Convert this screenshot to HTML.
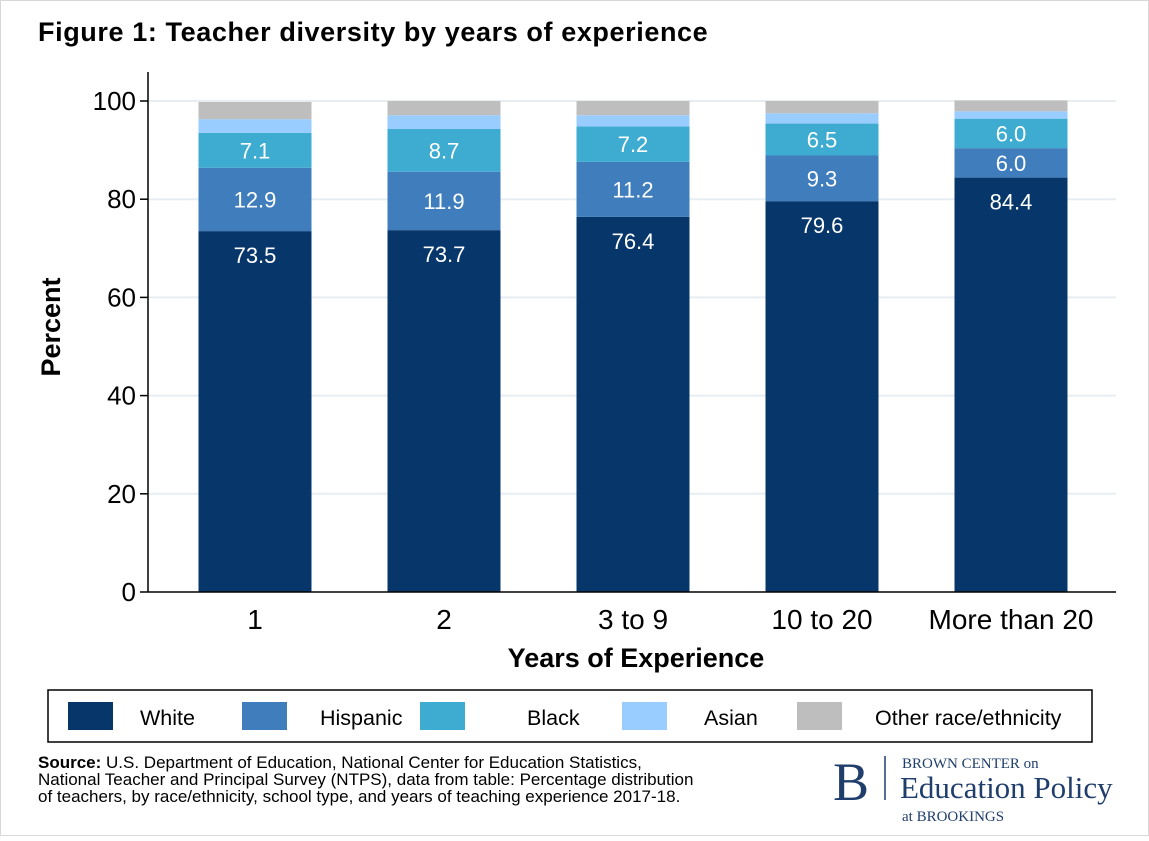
<!DOCTYPE html>
<html><head><meta charset="utf-8"><style>
body{margin:0;background:#fff;}
svg text{font-family:"Liberation Sans",sans-serif;}
</style></head><body>
<svg width="1149" height="836" viewBox="0 0 1149 836" xmlns="http://www.w3.org/2000/svg">
<rect x="0.5" y="0.5" width="1148" height="835" fill="#fff" stroke="#d8d8d8"/>
<text x="38" y="41" font-size="27" font-weight="bold" fill="#000" letter-spacing="0.6">Figure 1: Teacher diversity by years of experience</text>
<g id="grid"></g>
<g id="bars"></g>
<g id="axes"></g>
<text transform="translate(60,327) rotate(-90)" text-anchor="middle" font-size="27" font-weight="bold">Percent</text>
<text x="636" y="667" text-anchor="middle" font-size="27" font-weight="bold">Years of Experience</text>
<g>
<rect x="48" y="690" width="1044" height="52" fill="#fff" stroke="#000" stroke-width="1.5"/>
<g id="legend"></g>
</g>
<text font-size="17" fill="#000">
<tspan x="38" y="768"><tspan font-weight="bold">Source:</tspan> U.S. Department of Education, National Center for Education Statistics,</tspan>
<tspan x="38" y="785">National Teacher and Principal Survey (NTPS), data from table: Percentage distribution</tspan>
<tspan x="38" y="802">of teachers, by race/ethnicity, school type, and years of teaching experience 2017-18.</tspan>
</text>
<g>
<text x="833" y="800" font-size="54" fill="#1f3e6b" style="font-family:'Liberation Serif',serif">B</text>
<line x1="885" y1="756" x2="885" y2="800" stroke="#1f3e6b" stroke-width="1.5"/>
<text x="902" y="768" font-size="15" fill="#1f3e6b" style="font-family:'Liberation Serif',serif">BROWN CENTER on</text>
<text x="900" y="798" font-size="31" fill="#1f3e6b" style="font-family:'Liberation Serif',serif">Education Policy</text>
<text x="902" y="821" font-size="15" fill="#1f3e6b" style="font-family:'Liberation Serif',serif">at BROOKINGS</text>
</g>
</svg>
<script>
const categories=["1","2","3 to 9","10 to 20","More than 20"];
const seriesNames=["White","Hispanic","Black","Asian","Other race/ethnicity"];
const white=[73.5,73.7,76.4,79.6,84.4];
const hispanic=[12.9,11.9,11.2,9.3,6.0];
const black=[7.1,8.7,7.2,6.5,6.0];
const asian=[2.8,2.8,2.3,2.1,1.5];
const other=[3.5,2.9,2.9,2.5,2.2];
const yTicks=[0,20,40,60,80,100];
const colors=["#07376a","#3f7dbd","#3eabd0","#99ccff","#bebebe"];
const NS="http://www.w3.org/2000/svg";
const x0=148,x1=1116,y0=592,y100=101;
const y=v=>y0-(v/100)*(y0-y100);
const bandStart=160.5,bw=189;
const xc=i=>bandStart+bw*(i+0.5);
const barW=113;
function mk(t,a,p){const e=document.createElementNS(NS,t);for(const k in a)e.setAttribute(k,a[k]);p.appendChild(e);return e;}
const grid=document.getElementById('grid'),bars=document.getElementById('bars'),axes=document.getElementById('axes'),leg=document.getElementById('legend');
yTicks.forEach(t=>{
 if(t>0){const g=mk('line',{x1:x0,x2:x1,y1:y(t),y2:y(t),stroke:'#e6eef2','stroke-width':2},grid);
 
 }
 const tk=mk('line',{x1:x0-8,x2:x0,y1:y(t),y2:y(t),stroke:'#000','stroke-width':1.5},axes);
 
 
 const tl=mk('text',{x:x0-12,y:y(t)+9,'text-anchor':'end','font-size':26},axes);tl.textContent=t;
 
 
});
mk('line',{x1:x0,x2:x0,y1:72,y2:y0,stroke:'#000','stroke-width':1.5},axes);
mk('line',{x1:x0,x2:x1,y1:y0,y2:y0,stroke:'#000','stroke-width':1.5},axes);
const series=[white,hispanic,black,asian,other];
categories.forEach((c,i)=>{
 const cx=xc(i);
 let cum=0;
 series.forEach((s,k)=>{
  const v=s[i];
  const r=mk('rect',{x:cx-barW/2,y:y(cum+v),width:barW,height:y(cum)-y(cum+v),fill:colors[k]},bars);
  
  
  if(k<3){
   const ly=k===0?y(cum+v)+32:(y(cum)+y(cum+v))/2+8;
   const t=mk('text',{x:cx,y:ly,'text-anchor':'middle','font-size':22,fill:'#fff'},bars);t.textContent=v.toFixed(1);
   
   }
  cum+=v;
 });
 const cl=mk('text',{x:cx,y:629,'text-anchor':'middle','font-size':28},axes);cl.textContent=c;
 
 
});
const lx=[68,242,420,622,797],tx=[140,320,527,704,875];
seriesNames.forEach((n,k)=>{
 const r=mk('rect',{x:lx[k],y:702,width:45,height:28,fill:colors[k]},leg);
 
 
 const t=mk('text',{x:tx[k],y:725,'font-size':21.5},leg);t.textContent=n;
 
 
});
</script>
</body></html>
